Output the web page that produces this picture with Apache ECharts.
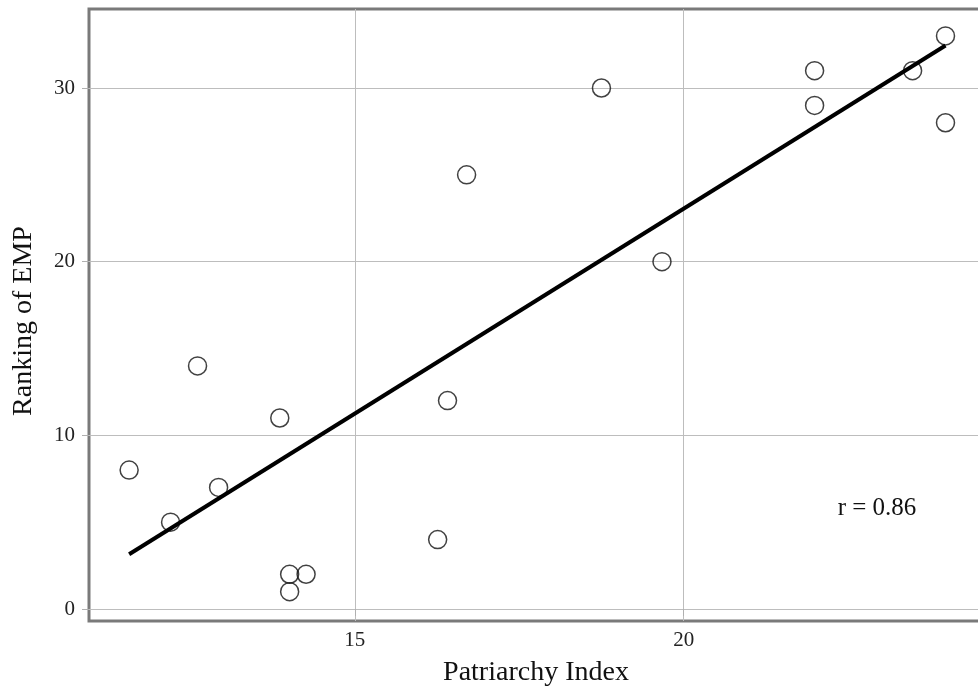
<!DOCTYPE html>
<html>
<head>
<meta charset="utf-8">
<script src="https://cdn.jsdelivr.net/npm/echarts@6/dist/echarts.min.js"></script>
<style>html,body{margin:0;padding:0;background:#fff;}#chart{width:978px;height:690px;}</style>
</head>
<body>
<div id="chart"></div>
<script>
const patriarchyIndex = [11.57, 12.20, 12.61, 12.93, 13.86, 14.01, 14.01, 14.26, 16.26, 16.41, 16.70, 18.75, 19.67, 21.99, 21.99, 23.48, 23.98, 23.98];
const empRanking      = [8, 5, 14, 7, 11, 2, 1, 2, 4, 12, 25, 30, 20, 31, 29, 31, 33, 28];
const fitX = [11.57, 23.98];
const fitY = [3.15, 32.45];
const xName = 'Patriarchy Index';
const yName = 'Ranking of EMP';
const rText = 'r = 0.86';

const points = patriarchyIndex.map((x, i) => [x, empRanking[i]]);
const fitLine = fitX.map((x, i) => [x, fitY[i]]);
const font = 'Liberation Serif';

const chart = echarts.init(document.getElementById('chart'));
chart.setOption({
  animation: false,
  backgroundColor: '#fff',
  grid: {
    left: 89, width: 894, top: 9, bottom: 69,
    outerBoundsMode: 'none', containLabel: false,
    show: true, borderColor: '#7a7a7a', borderWidth: 3, backgroundColor: 'transparent'
  },
  xAxis: {
    type: 'value', min: 10.96, max: 24.55, splitNumber: 3,
    name: xName, nameLocation: 'middle', nameGap: 38,
    nameTextStyle: { fontFamily: font, fontSize: 28, color: '#111' },
    axisLine: { show: false },
    axisTick: { show: true, length: 7, lineStyle: { color: '#b0b0b0' } },
    axisLabel: { fontFamily: font, fontSize: 21, color: '#222', margin: 9, showMinLabel: false, showMaxLabel: false,
      formatter: v => (Math.abs(v % 5) < 1e-9 ? String(v) : '') },
    splitLine: { show: true, showMinLine: false, showMaxLine: false, lineStyle: { color: '#bdbdbd', width: 1 } }
  },
  yAxis: {
    type: 'value', min: -0.69, max: 34.55, splitNumber: 4,
    name: yName, nameLocation: 'middle', nameGap: 51,
    nameTextStyle: { fontFamily: font, fontSize: 28, color: '#111', padding: [0, 12, 0, 0] },
    axisLine: { show: false },
    axisTick: { show: true, length: 7, lineStyle: { color: '#b0b0b0' } },
    axisLabel: { fontFamily: font, fontSize: 21, color: '#222', margin: 14, showMinLabel: false, showMaxLabel: false,
      formatter: v => (Math.abs(v % 10) < 1e-9 ? String(v) : '') },
    splitLine: { show: true, showMinLine: false, showMaxLine: false, lineStyle: { color: '#bdbdbd', width: 1 } }
  },
  series: [
    {
      type: 'scatter', data: points, symbol: 'circle', symbolSize: 18,
      itemStyle: { color: 'rgba(255,255,255,0)', borderColor: '#111', borderWidth: 1.5 },
      z: 2
    },
    {
      type: 'line', data: fitLine, symbol: 'none',
      lineStyle: { color: '#000', width: 4 }, z: 3
    }
  ],
  graphic: [
    { type: 'text', x: 877, y: 508, style: { text: rText, font: '25px "Liberation Serif"', fill: '#111', textAlign: 'center', textVerticalAlign: 'middle' } }
  ]
});
</script>
</body>
</html>
